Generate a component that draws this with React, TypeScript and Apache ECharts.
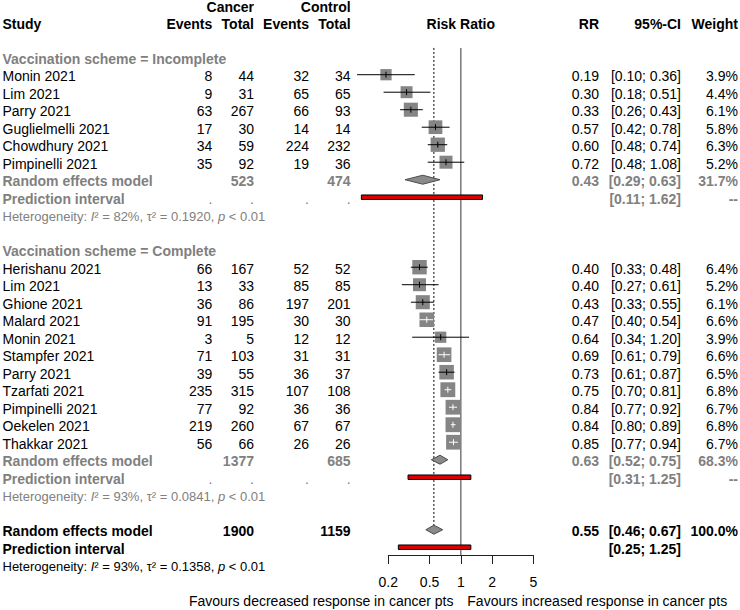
import React, { useEffect, useRef } from "react";
import * as echarts from "echarts";

const FONT = '"Liberation Sans", Arial, Helvetica, sans-serif';
const GREY = "#808080";
const BLACK = "#000000";

// ---------------- Data ----------------
const incTitle = "Vaccination scheme = Incomplete";
const incStudies = ["Monin 2021", "Lim 2021", "Parry 2021", "Guglielmelli 2021", "Chowdhury 2021", "Pimpinelli 2021"];
const incCancerEvents = [8, 9, 63, 17, 34, 35];
const incCancerTotal = [44, 31, 267, 30, 59, 92];
const incControlEvents = [32, 65, 66, 14, 224, 19];
const incControlTotal = [34, 65, 93, 14, 232, 36];
const incRR = [0.19, 0.3, 0.33, 0.57, 0.6, 0.72];
const incLower = [0.1, 0.18, 0.26, 0.42, 0.48, 0.48];
const incUpper = [0.36, 0.51, 0.43, 0.78, 0.74, 1.08];
const incWeight = [3.9, 4.4, 6.1, 5.8, 6.3, 5.2];
const incPooled = [0.43, 0.29, 0.63, 31.7]; // RR, lower, upper, weight
const incTotals = [523, 474];
const incPI = [0.11, 1.62];
const incHet = ["82%", "0.1920", "< 0.01"];

const comTitle = "Vaccination scheme = Complete";
const comStudies = ["Herishanu 2021", "Lim 2021", "Ghione 2021", "Malard 2021", "Monin 2021", "Stampfer 2021", "Parry 2021", "Tzarfati 2021", "Pimpinelli 2021", "Oekelen 2021", "Thakkar 2021"];
const comCancerEvents = [66, 13, 36, 91, 3, 71, 39, 235, 77, 219, 56];
const comCancerTotal = [167, 33, 86, 195, 5, 103, 55, 315, 92, 260, 66];
const comControlEvents = [52, 85, 197, 30, 12, 31, 36, 107, 36, 67, 26];
const comControlTotal = [52, 85, 201, 30, 12, 31, 37, 108, 36, 67, 26];
const comRR = [0.4, 0.4, 0.43, 0.47, 0.64, 0.69, 0.73, 0.75, 0.84, 0.84, 0.85];
const comLower = [0.33, 0.27, 0.33, 0.4, 0.34, 0.61, 0.61, 0.7, 0.77, 0.8, 0.77];
const comUpper = [0.48, 0.61, 0.55, 0.54, 1.2, 0.79, 0.87, 0.81, 0.92, 0.89, 0.94];
const comWeight = [6.4, 5.2, 6.1, 6.6, 3.9, 6.6, 6.5, 6.8, 6.7, 6.8, 6.7];
const comPooled = [0.63, 0.52, 0.75, 68.3];
const comTotals = [1377, 685];
const comPI = [0.31, 1.25];
const comHet = ["93%", "0.0841", "< 0.01"];

const allPooled = [0.55, 0.46, 0.67, 100.0];
const allTotals = [1900, 1159];
const allPI = [0.25, 1.25];
const allHet = ["93%", "0.1358", "< 0.01"];

const NULL_EFFECT = 1;
const xTicks = [0.2, 0.5, 1, 2, 5];
const favoursLeft = "Favours decreased response in cancer pts";
const favoursRight = "Favours increased response in cancer pts";

// ---------------- Layout / style ----------------
const COL = { study: 2.5, cEv: 212.3, cN: 254, kEv: 309, kN: 350.6, plot: 460.8, rr: 599, ci: 681, w: 738 };
const TEXT_DY = 1.5;
const SQUARE_K = 5.7;
const SQUARE_COLOR = "#858585";
const DIAMOND_FILL = "#8a8a8a";
const DIAMOND_STROKE = "#4d4d4d";
const Y_MAX = 31.45;
const LINE_TOP = 2.47;

type Cell = { t: string; x: number; a: "left" | "right" | "center"; b?: boolean; c?: string; s?: number; het?: string[] };
type TextRow = { row: number; cells: Cell[] };

const f2 = (v: number) => v.toFixed(2);
const ciText = (lo: number, hi: number) => `[${f2(lo)}; ${f2(hi)}]`;
const wText = (w: number) => `${w.toFixed(1)}%`;

const studyData: number[][] = [];
const diamondData: number[][] = [];
const piData: number[][] = [];
const textRows: TextRow[] = [];

textRows.push({
  row: 0,
  cells: [
    { t: "Cancer", x: COL.cN, a: "right", b: true },
    { t: "Control", x: COL.kN, a: "right", b: true },
  ],
});
textRows.push({
  row: 1,
  cells: [
    { t: "Study", x: COL.study, a: "left", b: true },
    { t: "Events", x: COL.cEv, a: "right", b: true },
    { t: "Total", x: COL.cN, a: "right", b: true },
    { t: "Events", x: COL.kEv, a: "right", b: true },
    { t: "Total", x: COL.kN, a: "right", b: true },
    { t: "Risk Ratio", x: COL.plot, a: "center", b: true },
    { t: "RR", x: COL.rr, a: "right", b: true },
    { t: "95%-CI", x: COL.ci, a: "right", b: true },
    { t: "Weight", x: COL.w, a: "right", b: true },
  ],
});

function addGroup(
  start: number,
  title: string,
  names: string[],
  cEv: number[],
  cN: number[],
  kEv: number[],
  kN: number[],
  rr: number[],
  lo: number[],
  hi: number[],
  w: number[],
  pooled: number[],
  totals: number[],
  pi: number[],
  het: string[]
) {
  textRows.push({ row: start, cells: [{ t: title, x: COL.study, a: "left", b: true, c: GREY }] });
  names.forEach((n, i) => {
    const row = start + 1 + i;
    studyData.push([rr[i], lo[i], hi[i], row, w[i]]);
    textRows.push({
      row,
      cells: [
        { t: n, x: COL.study, a: "left" },
        { t: String(cEv[i]), x: COL.cEv, a: "right" },
        { t: String(cN[i]), x: COL.cN, a: "right" },
        { t: String(kEv[i]), x: COL.kEv, a: "right" },
        { t: String(kN[i]), x: COL.kN, a: "right" },
        { t: f2(rr[i]), x: COL.rr, a: "right" },
        { t: ciText(lo[i], hi[i]), x: COL.ci, a: "right" },
        { t: wText(w[i]), x: COL.w, a: "right" },
      ],
    });
  });
  const reRow = start + 1 + names.length;
  diamondData.push([pooled[0], pooled[1], pooled[2], reRow]);
  textRows.push({
    row: reRow,
    cells: [
      { t: "Random effects model", x: COL.study, a: "left", b: true, c: GREY },
      { t: String(totals[0]), x: COL.cN, a: "right", b: true, c: GREY },
      { t: String(totals[1]), x: COL.kN, a: "right", b: true, c: GREY },
      { t: f2(pooled[0]), x: COL.rr, a: "right", b: true, c: GREY },
      { t: ciText(pooled[1], pooled[2]), x: COL.ci, a: "right", b: true, c: GREY },
      { t: wText(pooled[3]), x: COL.w, a: "right", b: true, c: GREY },
    ],
  });
  const piRow = reRow + 1;
  piData.push([pi[0], pi[1], piRow]);
  textRows.push({
    row: piRow,
    cells: [
      { t: "Prediction interval", x: COL.study, a: "left", b: true, c: GREY },
      { t: ".", x: COL.cEv, a: "right", c: GREY },
      { t: ".", x: COL.cN, a: "right", c: GREY },
      { t: ".", x: COL.kEv, a: "right", c: GREY },
      { t: ".", x: COL.kN, a: "right", c: GREY },
      { t: ciText(pi[0], pi[1]), x: COL.ci, a: "right", b: true, c: GREY },
      { t: "--", x: COL.w, a: "right", b: true, c: GREY },
    ],
  });
  textRows.push({ row: piRow + 1, cells: [{ t: "", x: COL.study, a: "left", c: GREY, s: 13, het }] });
}

addGroup(3, incTitle, incStudies, incCancerEvents, incCancerTotal, incControlEvents, incControlTotal, incRR, incLower, incUpper, incWeight, incPooled, incTotals, incPI, incHet);
addGroup(14, comTitle, comStudies, comCancerEvents, comCancerTotal, comControlEvents, comControlTotal, comRR, comLower, comUpper, comWeight, comPooled, comTotals, comPI, comHet);

diamondData.push([allPooled[0], allPooled[1], allPooled[2], 30]);
piData.push([allPI[0], allPI[1], 31]);
textRows.push({
  row: 30,
  cells: [
    { t: "Random effects model", x: COL.study, a: "left", b: true },
    { t: String(allTotals[0]), x: COL.cN, a: "right", b: true },
    { t: String(allTotals[1]), x: COL.kN, a: "right", b: true },
    { t: f2(allPooled[0]), x: COL.rr, a: "right", b: true },
    { t: ciText(allPooled[1], allPooled[2]), x: COL.ci, a: "right", b: true },
    { t: wText(allPooled[3]), x: COL.w, a: "right", b: true },
  ],
});
textRows.push({
  row: 31,
  cells: [
    { t: "Prediction interval", x: COL.study, a: "left", b: true },
    { t: ciText(allPI[0], allPI[1]), x: COL.ci, a: "right", b: true },
  ],
});
textRows.push({ row: 32, cells: [{ t: "", x: COL.study, a: "left", c: BLACK, s: 13, het: allHet }] });

const refLineData = [
  [NULL_EFFECT, LINE_TOP, Y_MAX, 0],
  [allPooled[0], LINE_TOP, 30, 1],
];

function cellStyle(c: Cell): any {
  const fill = c.c ?? BLACK;
  const fontSize = c.s ?? 14;
  const base: any = {
    fill,
    fontSize,
    fontFamily: FONT,
    fontWeight: c.b ? "bold" : "normal",
    align: c.a,
    verticalAlign: "middle",
    lineHeight: fontSize,
    text: c.t,
  };
  if (c.het) {
    base.text = `{n|Heterogeneity: }{i|I}{n|² = ${c.het[0]}, τ² = ${c.het[1]}, }{i|p}{n| ${c.het[2]}}`;
    base.rich = {
      n: { fill, fontSize, fontFamily: FONT, lineHeight: fontSize },
      i: { fill, fontSize, fontFamily: FONT, fontStyle: "italic", lineHeight: fontSize },
    };
  }
  return base;
}

export default function App() {
  const ref = useRef<HTMLDivElement>(null);
  useEffect(() => {
    if (!ref.current) return;
    const chart = echarts.init(ref.current, undefined, { renderer: "svg" });
    const option: any = {
      animation: false,
      grid: { left: 388.3, right: 740 - 533.3, top: 4.7, bottom: 54.9, containLabel: false, outerBoundsMode: "none" },
      xAxis: {
        type: "log",
        logBase: 10,
        min: 0.2,
        max: 5,
        position: "bottom",
        axisLine: { show: true, onZero: false, lineStyle: { color: "#222", width: 1 } },
        axisTick: { show: true, length: 9, customValues: xTicks, lineStyle: { color: "#222", width: 1 } },
        axisLabel: {
          customValues: xTicks,
          margin: 20,
          fontSize: 14,
          color: BLACK,
          fontFamily: FONT,
          formatter: (v: number) => String(parseFloat(Number(v).toPrecision(3))),
        },
        splitLine: { show: false },
        minorTick: { show: false },
      },
      yAxis: { type: "value", inverse: true, min: 0, max: Y_MAX, show: false },
      graphic: [
        {
          type: "text",
          x: 453.5,
          y: 601,
          style: { text: favoursLeft, align: "right", verticalAlign: "middle", fontSize: 14, fontFamily: FONT, fill: BLACK },
        },
        {
          type: "text",
          x: 467.3,
          y: 601,
          style: { text: favoursRight, align: "left", verticalAlign: "middle", fontSize: 14, fontFamily: FONT, fill: BLACK },
        },
      ],
      series: [
        {
          type: "custom",
          name: "reference",
          data: refLineData,
          encode: { x: 0, y: [1, 2] },
          silent: true,
          renderItem: (params: any, api: any) => {
            const x = api.value(0);
            const p1 = api.coord([x, api.value(1)]);
            const p2 = api.coord([x, api.value(2)]);
            const dotted = api.value(3) === 1;
            return {
              type: "line",
              shape: { x1: p1[0], y1: p1[1], x2: p2[0], y2: p2[1] },
              style: dotted
                ? { stroke: BLACK, lineWidth: 1, lineDash: [2, 2] }
                : { stroke: GREY, lineWidth: 1.6 },
            };
          },
        },
        {
          type: "custom",
          name: "prediction",
          data: piData,
          encode: { x: [0, 1], y: 2 },
          silent: true,
          renderItem: (params: any, api: any) => {
            const a = api.coord([api.value(0), api.value(2)]);
            const b = api.coord([api.value(1), api.value(2)]);
            const h = 4.5;
            return {
              type: "rect",
              shape: { x: a[0], y: a[1] - h / 2, width: b[0] - a[0], height: h },
              style: { fill: "#dd0000", stroke: BLACK, lineWidth: 1 },
            };
          },
        },
        {
          type: "custom",
          name: "pooled",
          data: diamondData,
          encode: { x: [0, 1, 2], y: 3 },
          silent: true,
          renderItem: (params: any, api: any) => {
            const row = api.value(3);
            const c = api.coord([api.value(0), row]);
            const l = api.coord([api.value(1), row]);
            const r = api.coord([api.value(2), row]);
            const h = 4.5;
            return {
              type: "polygon",
              shape: { points: [[l[0], c[1]], [c[0], c[1] - h], [r[0], c[1]], [c[0], c[1] + h]] },
              style: { fill: DIAMOND_FILL, stroke: DIAMOND_STROKE, lineWidth: 1 },
            };
          },
        },
        {
          type: "custom",
          name: "studies",
          data: studyData,
          encode: { x: [0, 1, 2], y: 3 },
          silent: true,
          renderItem: (params: any, api: any) => {
            const row = api.value(3);
            const c = api.coord([api.value(0), row]);
            const xl = api.coord([api.value(1), row])[0];
            const xh = api.coord([api.value(2), row])[0];
            const s = SQUARE_K * Math.sqrt(api.value(4));
            const inside = xl >= c[0] - s / 2 && xh <= c[0] + s / 2;
            const lc = inside ? "#ffffff" : BLACK;
            return {
              type: "group",
              children: [
                { type: "rect", shape: { x: c[0] - s / 2, y: c[1] - s / 2, width: s, height: s }, style: { fill: SQUARE_COLOR } },
                { type: "line", shape: { x1: xl, y1: c[1], x2: xh, y2: c[1] }, style: { stroke: lc, lineWidth: 1 } },
                { type: "line", shape: { x1: c[0], y1: c[1] - 3, x2: c[0], y2: c[1] + 3 }, style: { stroke: lc, lineWidth: 1 } },
              ],
            };
          },
        },
        {
          type: "custom",
          name: "table",
          data: textRows.map((r) => [1, r.row]),
          encode: { x: 0, y: 1 },
          silent: true,
          renderItem: (params: any, api: any) => {
            const r = textRows[params.dataIndex];
            const y = api.coord([1, api.value(1)])[1] + TEXT_DY + (r.row === 0 ? 0.8 : 0);
            return {
              type: "group",
              children: r.cells.map((c) => ({ type: "text", x: c.x, y, style: cellStyle(c) })),
            };
          },
        },
      ],
    };
    chart.setOption(option);
    return () => chart.dispose();
  }, []);
  return <div ref={ref} style={{ position: "absolute", left: 0, top: 0, width: 740, height: 610 }} />;
}
